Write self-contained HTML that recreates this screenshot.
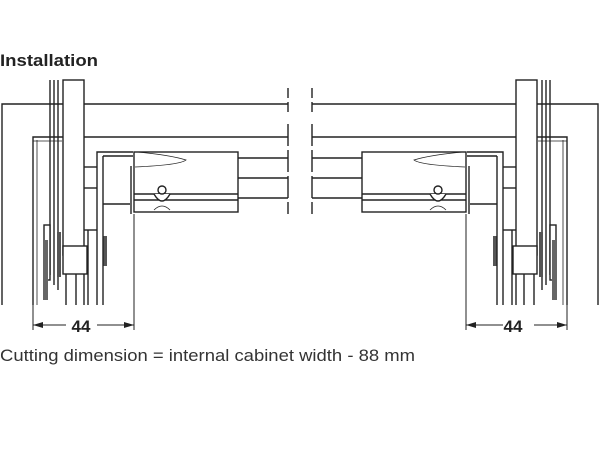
<!DOCTYPE html>
<html><head><style>
body{margin:0;background:#fff;width:600px;height:450px;overflow:hidden;font-family:"Liberation Sans",sans-serif}
</style></head><body>
<svg width="600" height="450" viewBox="0 0 600 450" xmlns="http://www.w3.org/2000/svg">
<text x="0" y="66" font-family="Liberation Sans" font-weight="bold" font-size="17" fill="#222" textLength="98" lengthAdjust="spacingAndGlyphs">Installation</text>
<defs>
<g id="side" stroke="#222" stroke-width="1.4" fill="none">
  <polyline points="2,305 2,104 288,104" fill="#fff"/>
  <polyline points="33,305 33,137 288,137"/>
  <line x1="37" y1="140" x2="37" y2="305" stroke-width="0.8"/>
  <line x1="33" y1="141" x2="62" y2="141" stroke-width="0.8"/>
  <rect x="63" y="80" width="21" height="175" fill="#fff"/>
  <line x1="50" y1="80" x2="50" y2="275"/>
  <line x1="54" y1="80" x2="54" y2="285"/>
  <line x1="58" y1="80" x2="58" y2="290"/>
  <rect x="63" y="246" width="24" height="28" fill="#fff"/>
  <line x1="66" y1="274" x2="66" y2="305"/>
  <line x1="76" y1="274" x2="76" y2="305"/>
  <line x1="84" y1="274" x2="84" y2="305"/>
  <line x1="88" y1="230" x2="88" y2="305"/>
  <rect x="44" y="225" width="6" height="55" fill="#fff"/>
  <rect x="43" y="240" width="5" height="60" fill="#666" stroke="none"/>
  <rect x="57" y="232" width="4" height="45" fill="#555" stroke="none"/>
  <rect x="103" y="236" width="4" height="30" fill="#555" stroke="none"/>
  <polyline points="97,305 97,152 133,152"/>
  <line x1="103" y1="156" x2="103" y2="305"/>
  <line x1="103" y1="156" x2="133" y2="156"/>
  <line x1="103" y1="204" x2="130" y2="204"/>
  <line x1="84" y1="167" x2="97" y2="167"/>
  <line x1="84" y1="188" x2="97" y2="188"/>
  <line x1="84" y1="230" x2="97" y2="230"/>
  <line x1="238" y1="158" x2="288" y2="158"/>
  <line x1="238" y1="178" x2="288" y2="178"/>
  <line x1="238" y1="198" x2="288" y2="198"/>
  <rect x="134" y="152" width="104" height="60" fill="#fff"/>
  <line x1="134" y1="194" x2="238" y2="194"/>
  <line x1="134" y1="200" x2="238" y2="200"/>
  <path d="M137,152 Q170,155 186,160 Q180,165 135,167" stroke-width="0.8"/>
  <path d="M154,194 Q162,208 170,194" fill="#fff"/>
  <path d="M154,210 Q162,202 170,210" stroke-width="0.8"/>
  <circle cx="162" cy="190" r="4" fill="#fff"/>
  <line x1="131" y1="166" x2="131" y2="214"/>
  <line x1="288" y1="88" x2="288" y2="116" stroke-dasharray="10,4"/>
  <line x1="288" y1="124" x2="288" y2="214" stroke-dasharray="22,4"/>
  <line x1="134" y1="214" x2="134" y2="330" stroke-width="1"/>
  <line x1="33" y1="305" x2="33" y2="330" stroke-width="1"/>
  <line x1="33" y1="325" x2="66" y2="325" stroke-width="1"/>
  <line x1="97" y1="325" x2="134" y2="325" stroke-width="1"/>
  <path d="M33,325 l10,-3 v6z" fill="#222" stroke="none"/>
  <path d="M134,325 l-10,-3 v6z" fill="#222" stroke="none"/>
</g>
</defs>
<use href="#side"/>
<use href="#side" transform="translate(600,0) scale(-1,1)"/>
<text x="81" y="332" text-anchor="middle" font-family="Liberation Sans" font-weight="bold" font-size="17" fill="#222">44</text>
<text x="513" y="332" text-anchor="middle" font-family="Liberation Sans" font-weight="bold" font-size="17" fill="#222">44</text>
<text x="0" y="361" font-family="Liberation Sans" font-size="17" fill="#333" textLength="415" lengthAdjust="spacingAndGlyphs">Cutting dimension = internal cabinet width - 88 mm</text>
</svg>
</body></html>
